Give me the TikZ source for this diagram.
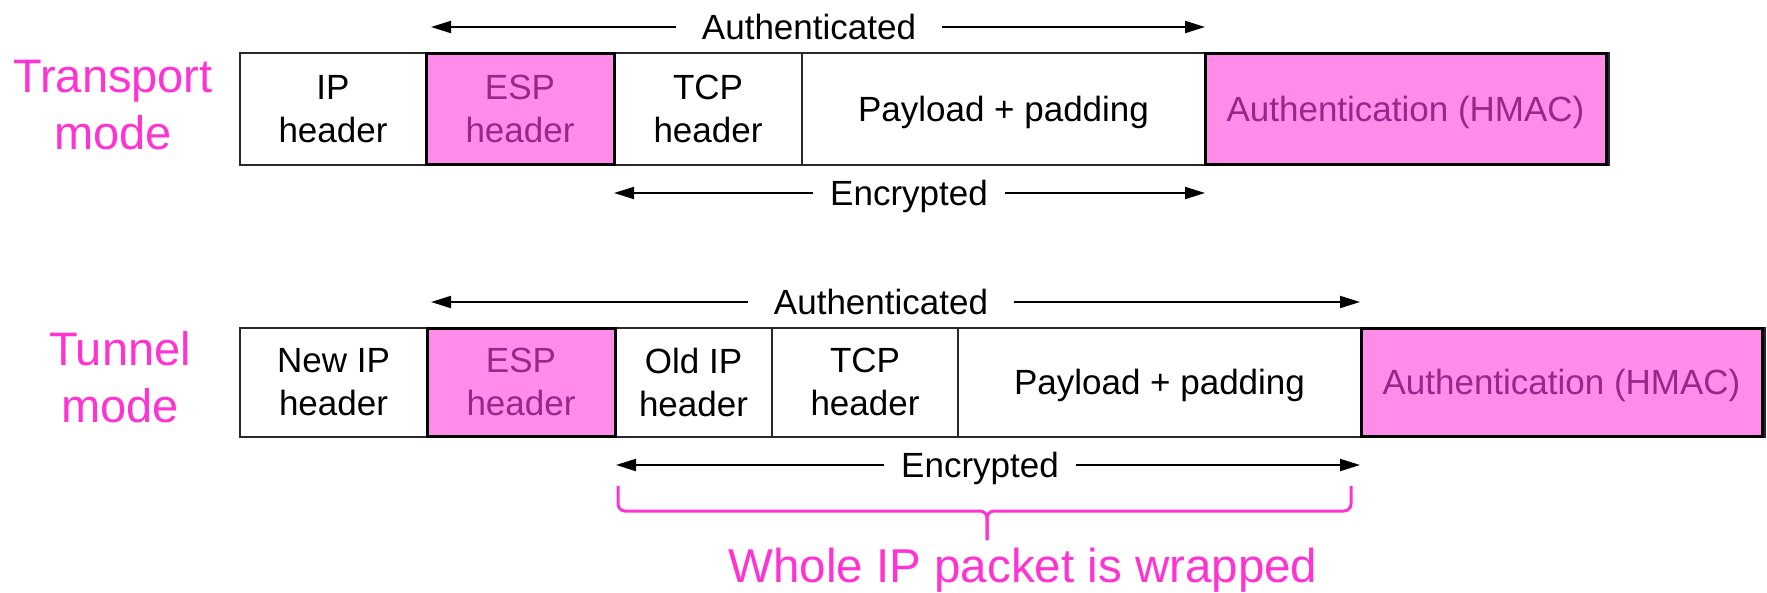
\documentclass[tikz,border=0pt]{standalone}
\usepackage{fontspec}
\setmainfont{Liberation Sans}
\usetikzlibrary{arrows.meta}

\definecolor{modepink}{RGB}{255,51,210}
\definecolor{espfill}{RGB}{255,140,232}
\definecolor{esptext}{RGB}{150,40,140}
\definecolor{frame}{RGB}{40,40,40}

\tikzset{
  cell/.style={draw=frame, line width=2pt, inner sep=0pt, outer sep=0pt,
    align=center, font=\fontsize{35}{43}\selectfont},
  oneline/.style={text height=25pt, text depth=0pt},
  espcell/.style={cell, draw=black, line width=3pt, fill=espfill, text=esptext},
  modelabel/.style={align=center, text=modepink, inner sep=0pt,
    font=\fontsize{47}{57}\selectfont},
  spanlabel/.style={inner xsep=26pt, inner ysep=0pt, text height=25pt, text depth=0pt,
    font=\fontsize{35}{43}\selectfont},
  spanarrow/.style={line width=2pt, -{Triangle[length=20pt,width=12pt]}},
  bracket/.style={draw=modepink, line width=3pt, rounded corners=7pt},
}

\begin{document}
\begin{tikzpicture}[x=1pt, y=-1pt]
\useasboundingbox (0,0) rectangle (1767,592);

% ---------------- Transport mode ----------------
\node[modelabel] (tmode) at (113,105.5) {Transport\\mode};

\draw[frame, line width=2pt] (240,53) rectangle (1609,164.5);
\node[cell, minimum width=186pt, minimum height=111.5pt] (tip)  at (333,108.75)    {IP\\header};
\node[cell, minimum width=188pt, minimum height=111.5pt] (ttcp) at (708,108.75)    {TCP\\header};
\node[cell, oneline, minimum width=403pt, minimum height=111.5pt] (tpay) at (1003.5,108.75) {Payload + padding};
\node[espcell, minimum width=188pt, minimum height=111.5pt] (tesp) at (520,108.75) {ESP\\header};
\node[espcell, oneline, minimum width=401pt, minimum height=111.5pt]
  (tauth) at (1405.5,108.75) {Authentication (HMAC)};

% authenticated span
\coordinate (taL) at (431,27);
\coordinate (taR) at (1205,27);
\node[spanlabel] (tauthlbl) at (809,27) {Authenticated};
\draw[spanarrow] (tauthlbl.west) -- (taL);
\draw[spanarrow] (tauthlbl.east) -- (taR);

% encrypted span
\coordinate (teL) at (614,193);
\coordinate (teR) at (1205,193);
\node[spanlabel, inner xsep=17pt] (tenclbl) at (909,193) {Encrypted};
\draw[spanarrow] (tenclbl.west) -- (teL);
\draw[spanarrow] (tenclbl.east) -- (teR);

% ---------------- Tunnel mode ----------------
\node[modelabel] (nmode) at (120,377) {Tunnel\\mode};

\draw[frame, line width=2pt] (240,328) rectangle (1765,436.5);
\node[cell, minimum width=187pt, minimum height=108.5pt] (nnip) at (333.5,382.25)  {New IP\\header};
\node[cell, minimum width=157pt, minimum height=108.5pt] (noip) at (693.5,382.25)  {Old IP\\header};
\node[cell, minimum width=186pt, minimum height=108.5pt] (ntcp) at (865,382.25)    {TCP\\header};
\node[cell, oneline, minimum width=403pt, minimum height=108.5pt] (npay) at (1159.5,382.25) {Payload + padding};
\node[espcell, minimum width=188pt, minimum height=108.5pt] (nesp) at (521,382.25) {ESP\\header};
\node[espcell, oneline, minimum width=401pt, minimum height=108.5pt]
  (nauth) at (1561.5,382.25) {Authentication (HMAC)};

% authenticated span
\coordinate (naL) at (431,302);
\coordinate (naR) at (1360,302);
\node[spanlabel] (nauthlbl) at (881,302) {Authenticated};
\draw[spanarrow] (nauthlbl.west) -- (naL);
\draw[spanarrow] (nauthlbl.east) -- (naR);

% encrypted span
\coordinate (neL) at (616,465);
\coordinate (neR) at (1360,465);
\node[spanlabel, inner xsep=17pt] (nenclbl) at (980,465) {Encrypted};
\draw[spanarrow] (nenclbl.west) -- (neL);
\draw[spanarrow] (nenclbl.east) -- (neR);

% bracket under the encrypted part
\coordinate (bL) at (618,486);
\coordinate (bR) at (1351,486);
\coordinate (bM) at (987,511);
\coordinate (bTip) at (987,540);
\draw[bracket] (bL) |- (bM) -- (bTip);
\draw[bracket] (bR) |- (bM) -- (bTip);

\node[anchor=base, text=modepink, inner sep=0pt, font=\fontsize{47.5}{57}\selectfont]
  (wrapnote) at (1023,582) {Whole IP packet is wrapped};
\end{tikzpicture}
\end{document}
